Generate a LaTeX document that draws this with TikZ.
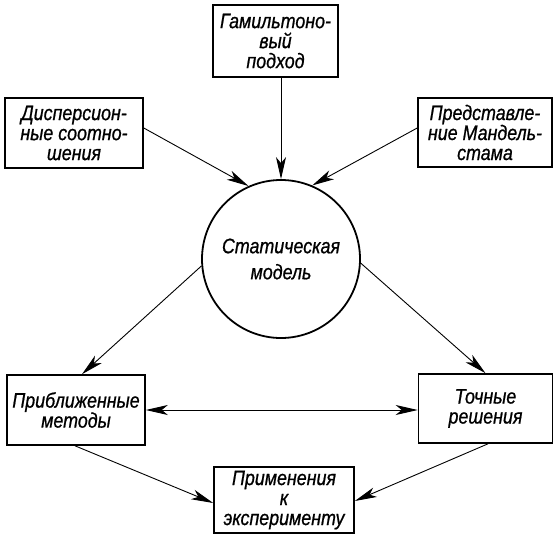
\documentclass[tikz,border=0pt]{standalone}
\usepackage{fontspec}
\setmainfont[FakeStretch=0.85,FakeBold=0.8]{Liberation Sans}
\usetikzlibrary{arrows.meta,calc}
\begin{document}
\begin{tikzpicture}[x=1pt,y=-1pt,
  every node/.style={font=\fontsize{21}{20}\selectfont\itshape, inner sep=0pt, align=center},
  blk/.style={draw, line width=1.6pt, rectangle, minimum width=#1},
  rnd/.style={draw, line width=1.8pt, circle, minimum size=158pt},
  arr/.style={line width=0.9pt, -{Stealth[length=22pt,width=10pt,inset=6pt]}},
  darr/.style={line width=0.9pt, {Stealth[length=22pt,width=10pt,inset=6pt]}-{Stealth[length=22pt,width=10pt,inset=6pt]}}]
\useasboundingbox (0,0) rectangle (553,535);
\node[blk=125pt, minimum height=72pt] (ham) at (275.5,41) {Гамильтоно-\\вый\\подход};
\node[blk=138pt, minimum height=70pt] (dis) at (74,133) {Дисперсион-\\ные соотно-\\шения};
\node[blk=134pt, minimum height=69pt] (rep) at (485,132.5) {Представле-\\ние Мандель-\\стама};
\node[rnd] (c) at (281,259) {Статическая\\[6pt]модель};
\node[blk=138pt, minimum height=70pt] (appr) at (76,410) {Приближенные\\методы};
\node[blk=134pt, minimum height=69pt] (exact) at (485.5,408.5) {Точные\\решения};
\node[blk=140pt, minimum height=66pt] (app) at (284,500) {Применения\\к\\эксперименту};
\draw[arr] (c.north |- ham.south) -- (c.north);
\draw[arr] ($(dis.east)+(0,-5)$) -- (c.114);
\draw[arr] ($(rep.west)+(0,-4.5)$) -- (c.67);
\draw[arr] (c.185) -- ($(appr.north)+(6,0)$);
\draw[arr] (c.-3) -- (exact.north);
\draw[darr] (appr.east) -- (appr.east -| exact.west);
\draw[arr] ($(appr.south)+(-1,0)$) -- ($(app.west)+(0,3)$);
\draw[arr] ($(exact.south)+(2.5,0)$) -- ($(app.east)+(0,1)$);
\end{tikzpicture}
\end{document}
